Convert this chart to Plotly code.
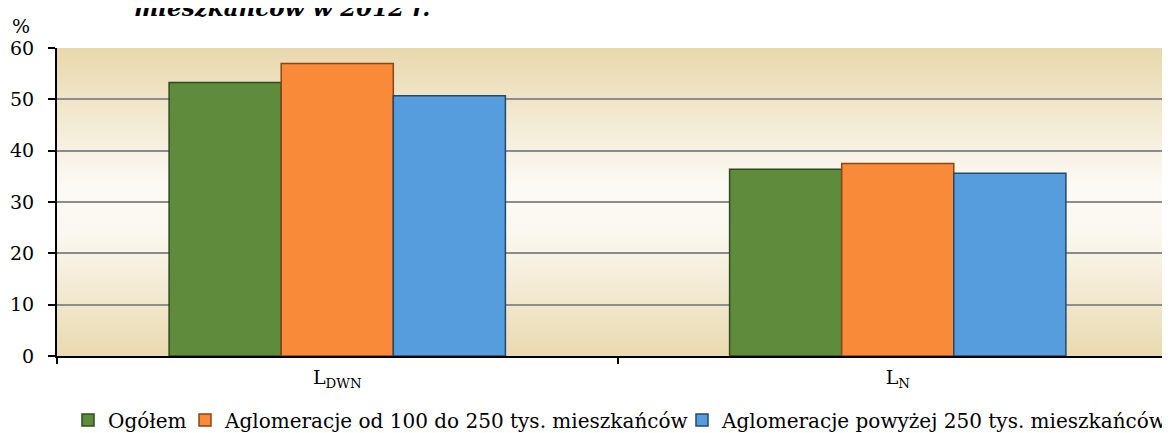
import base64
import plotly.graph_objects as go

categories = ["L<sub>DWN</sub>", "L<sub>N</sub>"]
series_names = [
    "Ogółem",
    "Aglomeracje od 100 do 250 tys. mieszkańców",
    "Aglomeracje powyżej 250 tys. mieszkańców",
]
ogolem = [53.3, 36.4]
aglo_100_250 = [57.0, 37.5]
aglo_250_plus = [50.7, 35.6]
y_ticks = [0, 10, 20, 30, 40, 50, 60]

colors = ["#5E8B3C", "#F98A3A", "#559DDD"]
line_colors = ["#2F4A1C", "#8A4615", "#24496E"]
legend_widths = [72, 452, 463]

FONT = "DejaVu Serif"

fig = go.Figure()
for name, vals, c, lc, lw in zip(series_names, [ogolem, aglo_100_250, aglo_250_plus],
                                 colors, line_colors, legend_widths):
    fig.add_trace(go.Bar(
        x=categories, y=vals, name=name, legendwidth=lw,
        marker=dict(color=c, line=dict(color=lc, width=1.5)),
    ))

svg = ('<svg xmlns="http://www.w3.org/2000/svg" width="100" height="100" preserveAspectRatio="none">'
       '<defs><linearGradient id="g" x1="0" y1="0" x2="0" y2="1">'
       '<stop offset="0" stop-color="#E8D8AC"/>'
       '<stop offset="0.45" stop-color="#FCFAF5"/>'
       '<stop offset="0.6" stop-color="#FBF8F0"/>'
       '<stop offset="1" stop-color="#E9DAB0"/>'
       '</linearGradient></defs><rect width="100" height="100" fill="url(#g)"/></svg>')
src = "data:image/svg+xml;base64," + base64.b64encode(svg.encode()).decode()

# the page body has an 8px default margin, so the figure is offset by 8px
fig.update_layout(
    width=1170, height=433,
    margin=dict(l=49, r=0, t=40, b=85, autoexpand=False),
    paper_bgcolor="white",
    plot_bgcolor="rgba(0,0,0,0)",
    barmode="group",
    bargap=0.4,
    bargroupgap=0,
    font=dict(family=FONT, size=18, color="black"),
    showlegend=True,
    legend=dict(
        orientation="h", xref="paper", x=(68 - 57) / 1121, xanchor="left",
        yref="paper", y=-0.2078, yanchor="middle",
        font=dict(family=FONT, size=20, color="black"),
        bgcolor="rgba(0,0,0,0)", itemwidth=30,
    ),
    images=[dict(source=src, xref="paper", yref="paper", x=0, y=1, sizex=1, sizey=1,
                 sizing="stretch", layer="below", xanchor="left", yanchor="top")],
    annotations=[
        dict(text="<b><i>mieszkańców w 2012 r.</i></b>", xref="paper", yref="paper",
             x=0.201, y=1.081, xanchor="center", yanchor="bottom", showarrow=False,
             font=dict(family=FONT, size=23, color="black")),
        dict(text="%", xref="paper", yref="paper", x=-0.032, y=1.071,
             xanchor="center", yanchor="middle", showarrow=False,
             font=dict(family=FONT, size=19, color="black")),
    ],
)

fig.update_xaxes(
    type="category", range=[-0.5, 1.5], automargin=False,
    tickson="boundaries", ticks="outside", ticklen=6, tickwidth=2, tickcolor="black",
    showline=True, linecolor="black", linewidth=2,
    showgrid=False, tickfont=dict(family=FONT, size=19, color="black"), ticklabelstandoff=3,
)
fig.update_yaxes(
    range=[0, 60], tickvals=y_ticks, automargin=False,
    ticks="outside", ticklen=7, tickwidth=2, tickcolor="black",
    showline=True, linecolor="black", linewidth=2,
    showgrid=True, gridcolor="#8C8C8C", gridwidth=2, zeroline=False,
    tickfont=dict(family=FONT, size=19, color="black"), ticklabelstandoff=10,
)

fig.write_html("out.html")
